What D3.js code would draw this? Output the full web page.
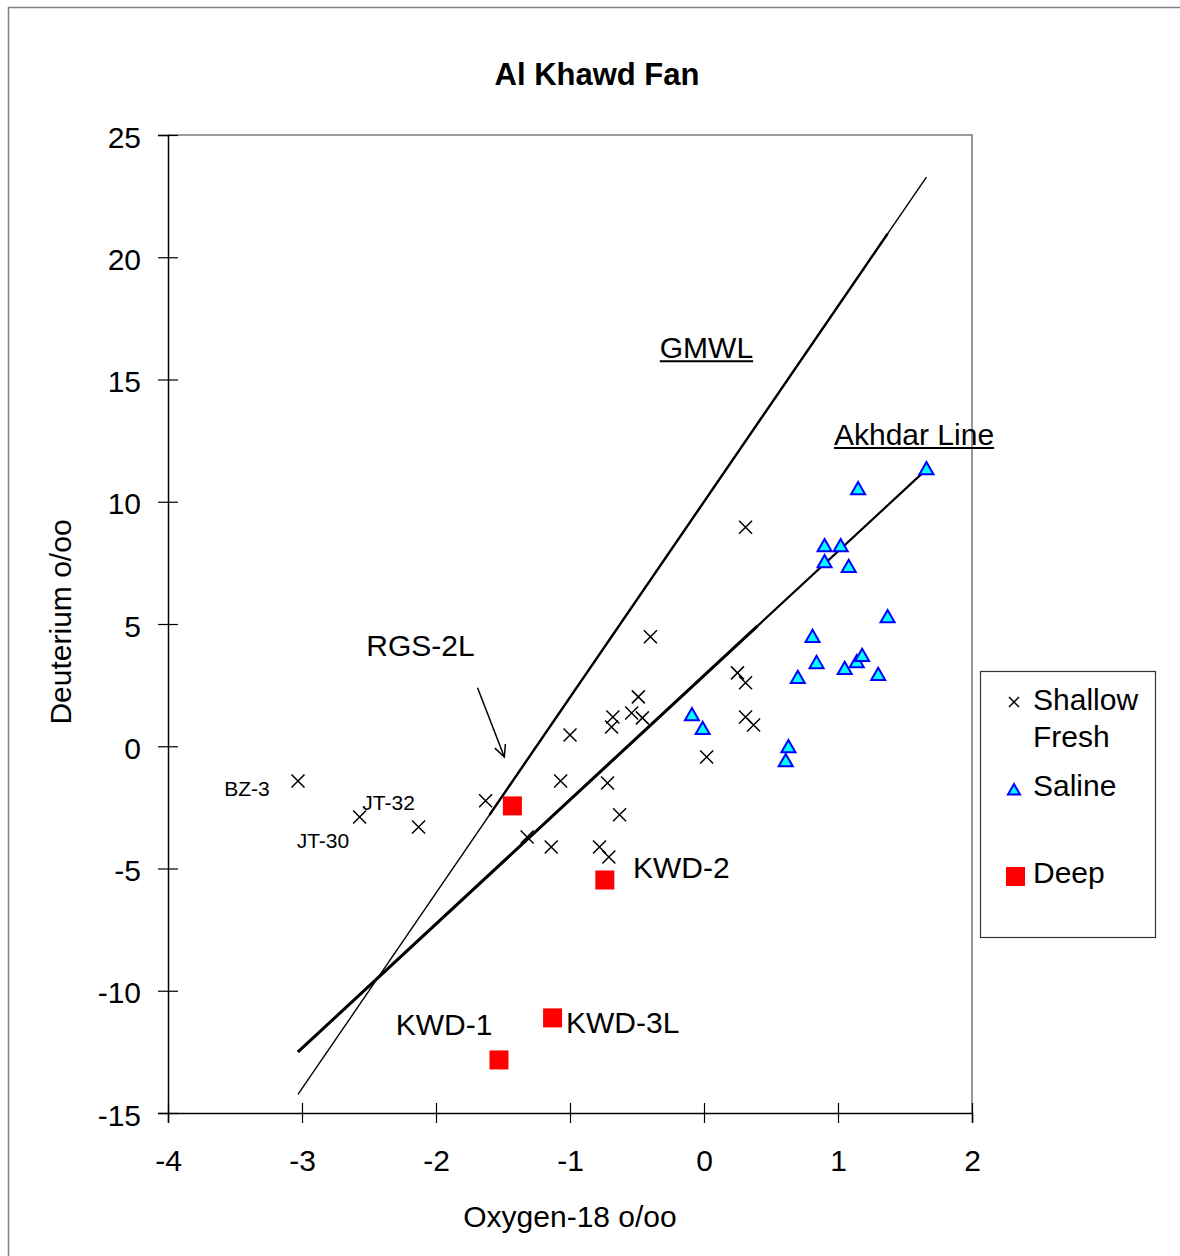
<!DOCTYPE html>
<html>
<head>
<meta charset="utf-8">
<script src="https://cdn.jsdelivr.net/npm/d3@7"></script>
<style>
  body { margin: 0; background: #fff; }
  text { font-family: "Liberation Sans", Arial, sans-serif; fill: #000; }
</style>
</head>
<body>
<div id="chart"></div>
<script>
// shallow fresh wells (x = oxygen-18, y = deuterium)
var shallowO18 = [-3.03, -2.57, -2.13, -1.63, -1.32, -1.14, -1.07, -1.00, -0.78, -0.71, -0.72, -0.63,
                  -0.40, -0.49, -0.54, -0.46, -0.68, -0.69, 0.02, 0.25, 0.31, 0.31, 0.37, 0.31];
var shallowD   = [-1.42, -2.89, -3.30, -2.23, -3.71, -4.12, -1.42, 0.46, -4.12, -4.53, -1.50, -2.80,
                  4.48, 2.02, 1.36, 1.16, 1.20, 0.79, -0.44, 3.00, 2.60, 1.20, 0.87, 8.96];

// saline wells
var salineO18 = [1.66, 1.15, 0.90, 1.02, 0.90, 1.08, 1.37, 0.81, 0.84, 0.70, 1.05, 1.14, 1.18, 1.30,
                 -0.09, -0.01, 0.63, 0.61];
var salineD   = [11.34, 10.52, 8.19, 8.19, 7.54, 7.34, 5.29, 4.48, 3.41, 2.80, 3.17, 3.45, 3.70, 2.92,
                 1.28, 0.72, -0.03, -0.60];

// deep wells
var deepO18 = [-1.43, -0.74, -1.13, -1.53];
var deepD   = [-2.44, -5.47, -11.11, -12.83];

// reference lines: slope, intercept, start, end, thick part
var gmwl    = { slope: 8, icpt: 10, from: -3.03, to: 1.66, thickFrom: -1.6, thickTo: 1.37 };
var akhdar  = { slope: 5.08, icpt: 2.89, from: -3.03, to: 1.66, thickFrom: -3.03, thickTo: 0.4 };

var xTicks = [-4, -3, -2, -1, 0, 1, 2];
var yTicks = [-15, -10, -5, 0, 5, 10, 15, 20, 25];

// point labels, in data units
var smallLabels = [
  { text: "BZ-3",  x: -3.58, y: -2.05 },
  { text: "JT-32", x: -2.55, y: -2.60 },
  { text: "JT-30", x: -3.04, y: -4.15 }
];
var bigLabels = [
  { text: "RGS-2L", x: -2.52, y: 3.69 },
  { text: "KWD-2",  x: -0.53, y: -5.37 },
  { text: "KWD-1",  x: -2.30, y: -11.82 },
  { text: "KWD-3L", x: -1.03, y: -11.74 }
];

var width = 1180, height = 1256;
var fs = 30;

var svg = d3.select("#chart").append("svg")
    .attr("width", width)
    .attr("height", height);

// outer chart border (left and top only are in view)
svg.append("path")
    .attr("d", "M8.5," + height + "V7.5H" + width)
    .attr("fill", "none")
    .attr("stroke", "#808080")
    .attr("stroke-width", 1.5);

var x = d3.scaleLinear().domain([-4, 2]).range([168, 972]);
var y = d3.scaleLinear().domain([-15, 25]).range([1113, 135]);

// plot frame: grey top and right
svg.append("path")
    .attr("d", "M" + x(-4) + "," + y(25) + "H" + x(2) + "V" + y(-15))
    .attr("fill", "none")
    .attr("stroke", "#999")
    .attr("stroke-width", 2);

// axes
var xAxis = d3.axisBottom(x).tickValues(xTicks).tickSize(10).tickPadding(27)
    .tickFormat(d3.format("d"));
var yAxis = d3.axisLeft(y).tickValues(yTicks).tickSize(10).tickPadding(17)
    .tickFormat(d3.format("d"));

var gx = svg.append("g")
    .attr("transform", "translate(0," + y(-15) + ")")
    .call(xAxis);
var gy = svg.append("g")
    .attr("transform", "translate(" + x(-4) + ",0)")
    .call(yAxis);

[gx, gy].forEach(function(g) {
  g.select(".domain").attr("stroke", "#000").attr("stroke-width", 1.5);
  g.selectAll(".tick line").attr("stroke", "#000").attr("stroke-width", 1.2);
  g.selectAll(".tick text")
    .style("font-family", "'Liberation Sans', Arial, sans-serif")
    .style("font-size", fs + "px")
    .attr("fill", "#000");
});
// ticks cross the axis
gx.selectAll(".tick line").attr("y1", -10);
gy.selectAll(".tick line").attr("x1", 10);
gy.selectAll(".tick text").attr("dy", "0.4em");
// minus sign as a plain hyphen
gx.selectAll(".tick text").text(function(d) { return String(d); });
gy.selectAll(".tick text").text(function(d) { return String(d); });

// title and axis titles
svg.append("text")
    .attr("x", 597).attr("y", 85)
    .attr("text-anchor", "middle")
    .style("font-size", "31px")
    .style("font-weight", "bold")
    .text("Al Khawd Fan");

svg.append("text")
    .attr("x", 570).attr("y", 1227)
    .attr("text-anchor", "middle")
    .style("font-size", fs + "px")
    .text("Oxygen-18 o/oo");

svg.append("text")
    .attr("transform", "translate(71,622) rotate(-90)")
    .attr("text-anchor", "middle")
    .style("font-size", fs + "px")
    .text("Deuterium o/oo");

// reference lines
function drawLine(l, w0, w1) {
  svg.append("line")
    .attr("x1", x(l.from)).attr("y1", y(l.slope * l.from + l.icpt))
    .attr("x2", x(l.to)).attr("y2", y(l.slope * l.to + l.icpt))
    .attr("stroke", "#000").attr("stroke-width", w0);
  svg.append("line")
    .attr("x1", x(l.thickFrom)).attr("y1", y(l.slope * l.thickFrom + l.icpt))
    .attr("x2", x(l.thickTo)).attr("y2", y(l.slope * l.thickTo + l.icpt))
    .attr("stroke", "#000").attr("stroke-width", w1);
}
drawLine(gmwl, 1.4, 2.4);
drawLine(akhdar, 2.2, 3);

// underlined line names
function underlined(txt, dx, dy) {
  var t = svg.append("text")
    .attr("x", x(dx)).attr("y", y(dy))
    .style("font-size", fs + "px")
    .text(txt);
  var w = t.node().getComputedTextLength();
  svg.append("line")
    .attr("x1", x(dx)).attr("x2", x(dx) + w)
    .attr("y1", y(dy) + 3).attr("y2", y(dy) + 3)
    .attr("stroke", "#000").attr("stroke-width", 2);
}
underlined("GMWL", -0.33, 15.87);
underlined("Akhdar Line", 0.97, 12.32);

// arrow pointing to RGS-2L
var ax0 = x(-1.69), ay0 = y(2.39), ax1 = x(-1.49), ay1 = y(-0.44);
svg.append("line")
    .attr("x1", ax0).attr("y1", ay0).attr("x2", ax1).attr("y2", ay1)
    .attr("stroke", "#000").attr("stroke-width", 1.5);
var ang = Math.atan2(ay1 - ay0, ax1 - ax0);
var head = 13, spread = 0.45;
svg.append("path")
    .attr("d", "M" + (ax1 - head * Math.cos(ang - spread)) + "," + (ay1 - head * Math.sin(ang - spread)) +
               "L" + ax1 + "," + ay1 +
               "L" + (ax1 - head * Math.cos(ang + spread)) + "," + (ay1 - head * Math.sin(ang + spread)))
    .attr("fill", "none")
    .attr("stroke", "#000")
    .attr("stroke-width", 1.5);

// point labels
svg.selectAll(".small-label")
  .data(smallLabels)
  .enter().append("text")
    .attr("class", "small-label")
    .attr("x", function(d) { return x(d.x); })
    .attr("y", function(d) { return y(d.y); })
    .style("font-size", "21px")
    .text(function(d) { return d.text; });

svg.selectAll(".big-label")
  .data(bigLabels)
  .enter().append("text")
    .attr("class", "big-label")
    .attr("x", function(d) { return x(d.x); })
    .attr("y", function(d) { return y(d.y); })
    .style("font-size", fs + "px")
    .text(function(d) { return d.text; });

// markers
function crossPath(cx, cy, r) {
  return "M" + (cx - r) + "," + (cy - r) + "L" + (cx + r) + "," + (cy + r) +
         "M" + (cx - r) + "," + (cy + r) + "L" + (cx + r) + "," + (cy - r);
}
function triPath(cx, cy, s) {
  return "M" + cx + "," + (cy - s) + "L" + (cx + s) + "," + (cy + s * 0.75) +
         "L" + (cx - s) + "," + (cy + s * 0.75) + "Z";
}

svg.selectAll(".shallow")
  .data(d3.range(shallowO18.length))
  .enter().append("path")
    .attr("class", "shallow")
    .attr("d", function(i) { return crossPath(x(shallowO18[i]), y(shallowD[i]), 6.5); })
    .attr("stroke", "#000")
    .attr("stroke-width", 1.5)
    .attr("fill", "none");

svg.selectAll(".saline")
  .data(d3.range(salineO18.length))
  .enter().append("path")
    .attr("class", "saline")
    .attr("d", function(i) { return triPath(x(salineO18[i]), y(salineD[i]), 7); })
    .attr("stroke", "#0000ff")
    .attr("stroke-width", 2)
    .attr("fill", "#00ffff");

var sq = 19;
svg.selectAll(".deep")
  .data(d3.range(deepO18.length))
  .enter().append("rect")
    .attr("class", "deep")
    .attr("x", function(i) { return x(deepO18[i]) - sq / 2; })
    .attr("y", function(i) { return y(deepD[i]) - sq / 2; })
    .attr("width", sq)
    .attr("height", sq)
    .attr("fill", "#ff0000");

// legend
var legend = svg.append("g").attr("transform", "translate(980,671)");
legend.append("rect")
    .attr("x", 0.5).attr("y", 0.5)
    .attr("width", 175).attr("height", 266)
    .attr("fill", "#fff")
    .attr("stroke", "#333")
    .attr("stroke-width", 1.2);
legend.append("path")
    .attr("d", crossPath(34, 31, 5))
    .attr("stroke", "#000").attr("stroke-width", 1.5).attr("fill", "none");
legend.append("path")
    .attr("d", triPath(34, 119, 6))
    .attr("stroke", "#0000ff").attr("stroke-width", 2).attr("fill", "#00ffff");
legend.append("rect")
    .attr("x", 26).attr("y", 196).attr("width", 19).attr("height", 19)
    .attr("fill", "#ff0000");
[["Shallow", 39], ["Fresh", 76], ["Saline", 125], ["Deep", 212]].forEach(function(e) {
  legend.append("text")
    .attr("x", 53).attr("y", e[1])
    .style("font-size", fs + "px")
    .text(e[0]);
});
</script>
</body>
</html>
